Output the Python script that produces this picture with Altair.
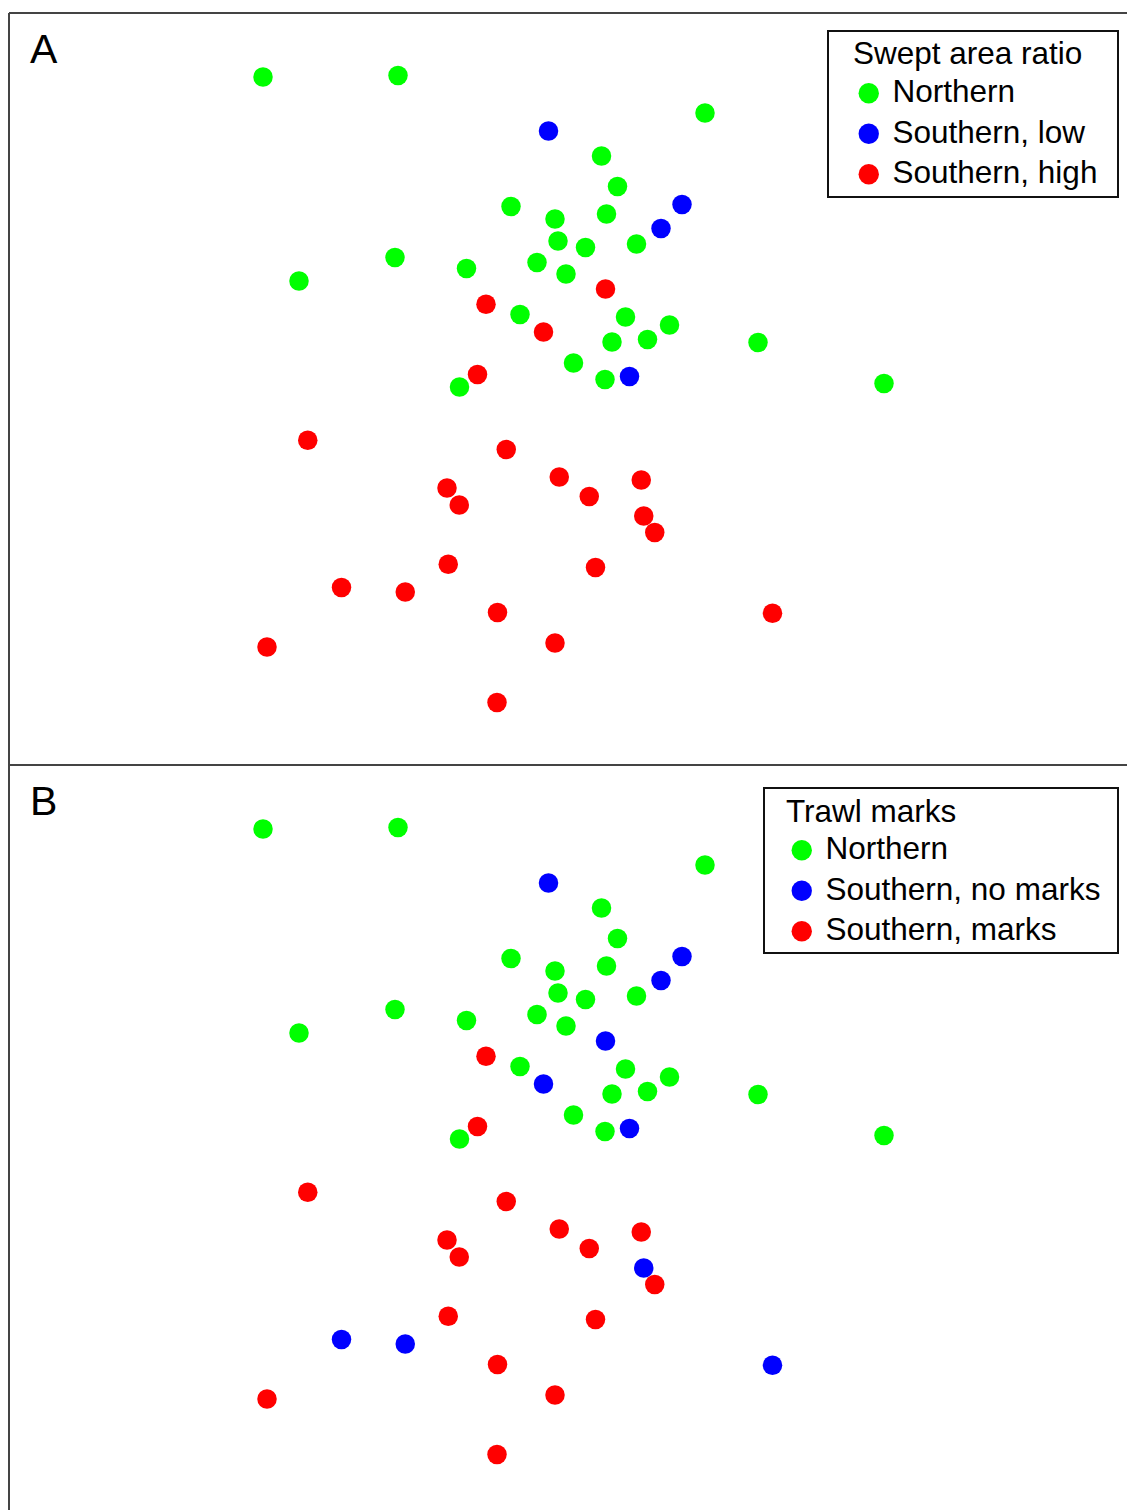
import altair as alt
import pandas as pd

# NMDS ordination scores of the 52 survey stations
nmds1 = [
    -1.232, -0.692, 0.536, 0.122, 0.186, -0.240, -0.064, 0.142, -0.052, 0.058,
    0.262, -0.704, -1.088, -0.418, -0.136, -0.020, -0.204, 0.218, 0.394, 0.164,
    0.306, 0.748, 0.010, 0.136, -0.446, 1.252,
    -0.090, 0.444, 0.360, 0.234,
    0.138, -0.340, -0.110, -0.374, -1.053, -0.259, -0.496, -0.447, -0.047, 0.073,
    0.281, 0.291, 0.335, -0.491, 0.098, -0.918, -0.663, -0.294, 0.806, -1.216,
    -0.064, -0.296,
]
nmds2 = [
    1.376, 1.382, 1.232, 1.060, 0.938, 0.858, 0.808, 0.828, 0.720, 0.694,
    0.708, 0.654, 0.560, 0.610, 0.634, 0.588, 0.426, 0.416, 0.384, 0.316,
    0.326, 0.314, 0.232, 0.166, 0.136, 0.150,
    1.160, 0.866, 0.770, 0.178,
    0.528, 0.467, 0.356, 0.186, -0.077, -0.114, -0.268, -0.336, -0.224, -0.302,
    -0.236, -0.380, -0.446, -0.573, -0.586, -0.666, -0.684, -0.766, -0.769, -0.904,
    -0.888, -1.126,
]

N, SL, SH = "Northern", "Southern, low", "Southern, high"
swept = [N] * 26 + [SL] * 4 + [
    SH, SH, SH, SH, SH, SH, SH, SH, SH, SH,
    SH, SH, SH, SH, SH, SH, SH, SH, SH, SH,
    SH, SH,
]

NM, SN, SM = "Northern", "Southern, no marks", "Southern, marks"
trawl = [NM] * 26 + [SN] * 4 + [
    SN, SM, SN, SM, SM, SM, SM, SM, SM, SM,
    SM, SN, SM, SM, SM, SN, SN, SM, SN, SM,
    SM, SM,
]

swept_levels = [N, SL, SH]
trawl_levels = [NM, SN, SM]
palette = ["#00ff00", "#0000ff", "#ff0000"]

df = pd.DataFrame({"nmds1": nmds1, "nmds2": nmds2, "swept": swept, "trawl": trawl})

FONT = "Liberation Sans"
W = 1118
H_A = 752
H_B = 746
X_DOMAIN = [-2.248, 2.224]
Y_DOMAIN_A = [-1.376, 1.632]
Y_DOMAIN_B = [-1.352, 1.632]
BORDER = "#444444"
one = pd.DataFrame({"v": [0]})


def legend(title, lx, ly, tpad):
    return alt.Legend(
        title=title, orient="none", legendX=lx, legendY=ly,
        titleFont=FONT, labelFont=FONT, titleFontSize=31.5, labelFontSize=31.5,
        titleFontWeight="normal", titleColor="black", labelColor="black",
        symbolType="circle", symbolSize=415, symbolStrokeWidth=0, symbolOpacity=1,
        rowPadding=7.5, titlePadding=tpad, labelOffset=8, padding=0,
        labelLimit=600, titleLimit=600,
    )


def panel(field, levels, title, letter, height, ydom, lx, ly, tpad, box):
    pts = alt.Chart(df).mark_circle(size=380, opacity=1).encode(
        x=alt.X("nmds1:Q", scale=alt.Scale(domain=X_DOMAIN, nice=False, zero=False), axis=None),
        y=alt.Y("nmds2:Q", scale=alt.Scale(domain=ydom, nice=False, zero=False), axis=None),
        color=alt.Color(f"{field}:N",
                        scale=alt.Scale(domain=levels, range=palette),
                        sort=levels,
                        legend=legend(title, lx, ly, tpad)),
    )
    top = alt.Chart(one).mark_rule(color=BORDER, strokeWidth=2).encode(
        x=alt.value(0), x2=alt.value(W), y=alt.value(0))
    left = alt.Chart(one).mark_rule(color=BORDER, strokeWidth=2).encode(
        x=alt.value(0), y=alt.value(0), y2=alt.value(height))
    frame = alt.Chart(one).mark_rect(fill="white", fillOpacity=0, stroke="#111111", strokeWidth=2).encode(
        x=alt.value(box[0]), x2=alt.value(box[1]), y=alt.value(box[2]), y2=alt.value(box[3]))
    tag = alt.Chart(one).mark_text(
        text=letter, font=FONT, fontSize=41, align="left", baseline="alphabetic", color="black"
    ).encode(x=alt.value(21), y=alt.value(50))
    return alt.layer(top, left, pts, frame, tag).properties(width=W, height=height)


panel_a = panel("swept", swept_levels, "Swept area ratio", "A", H_A, Y_DOMAIN_A,
                844, 26, 7, (819, 1109, 18, 184))
panel_b = panel("trawl", trawl_levels, "Trawl marks", "B", H_B, Y_DOMAIN_B,
                777, 32, 6, (755, 1109, 23, 188))

chart = (
    alt.vconcat(panel_a, panel_b, spacing=0, bounds="flush")
    .resolve_scale(color="independent", x="independent", y="independent")
    .resolve_legend(color="independent")
    .properties(padding={"left": 8, "top": 12, "right": 0, "bottom": 0}, background="white")
    .configure_view(stroke=None)
)

chart.save("out.html", embed_options={"renderer": "svg", "actions": False})
